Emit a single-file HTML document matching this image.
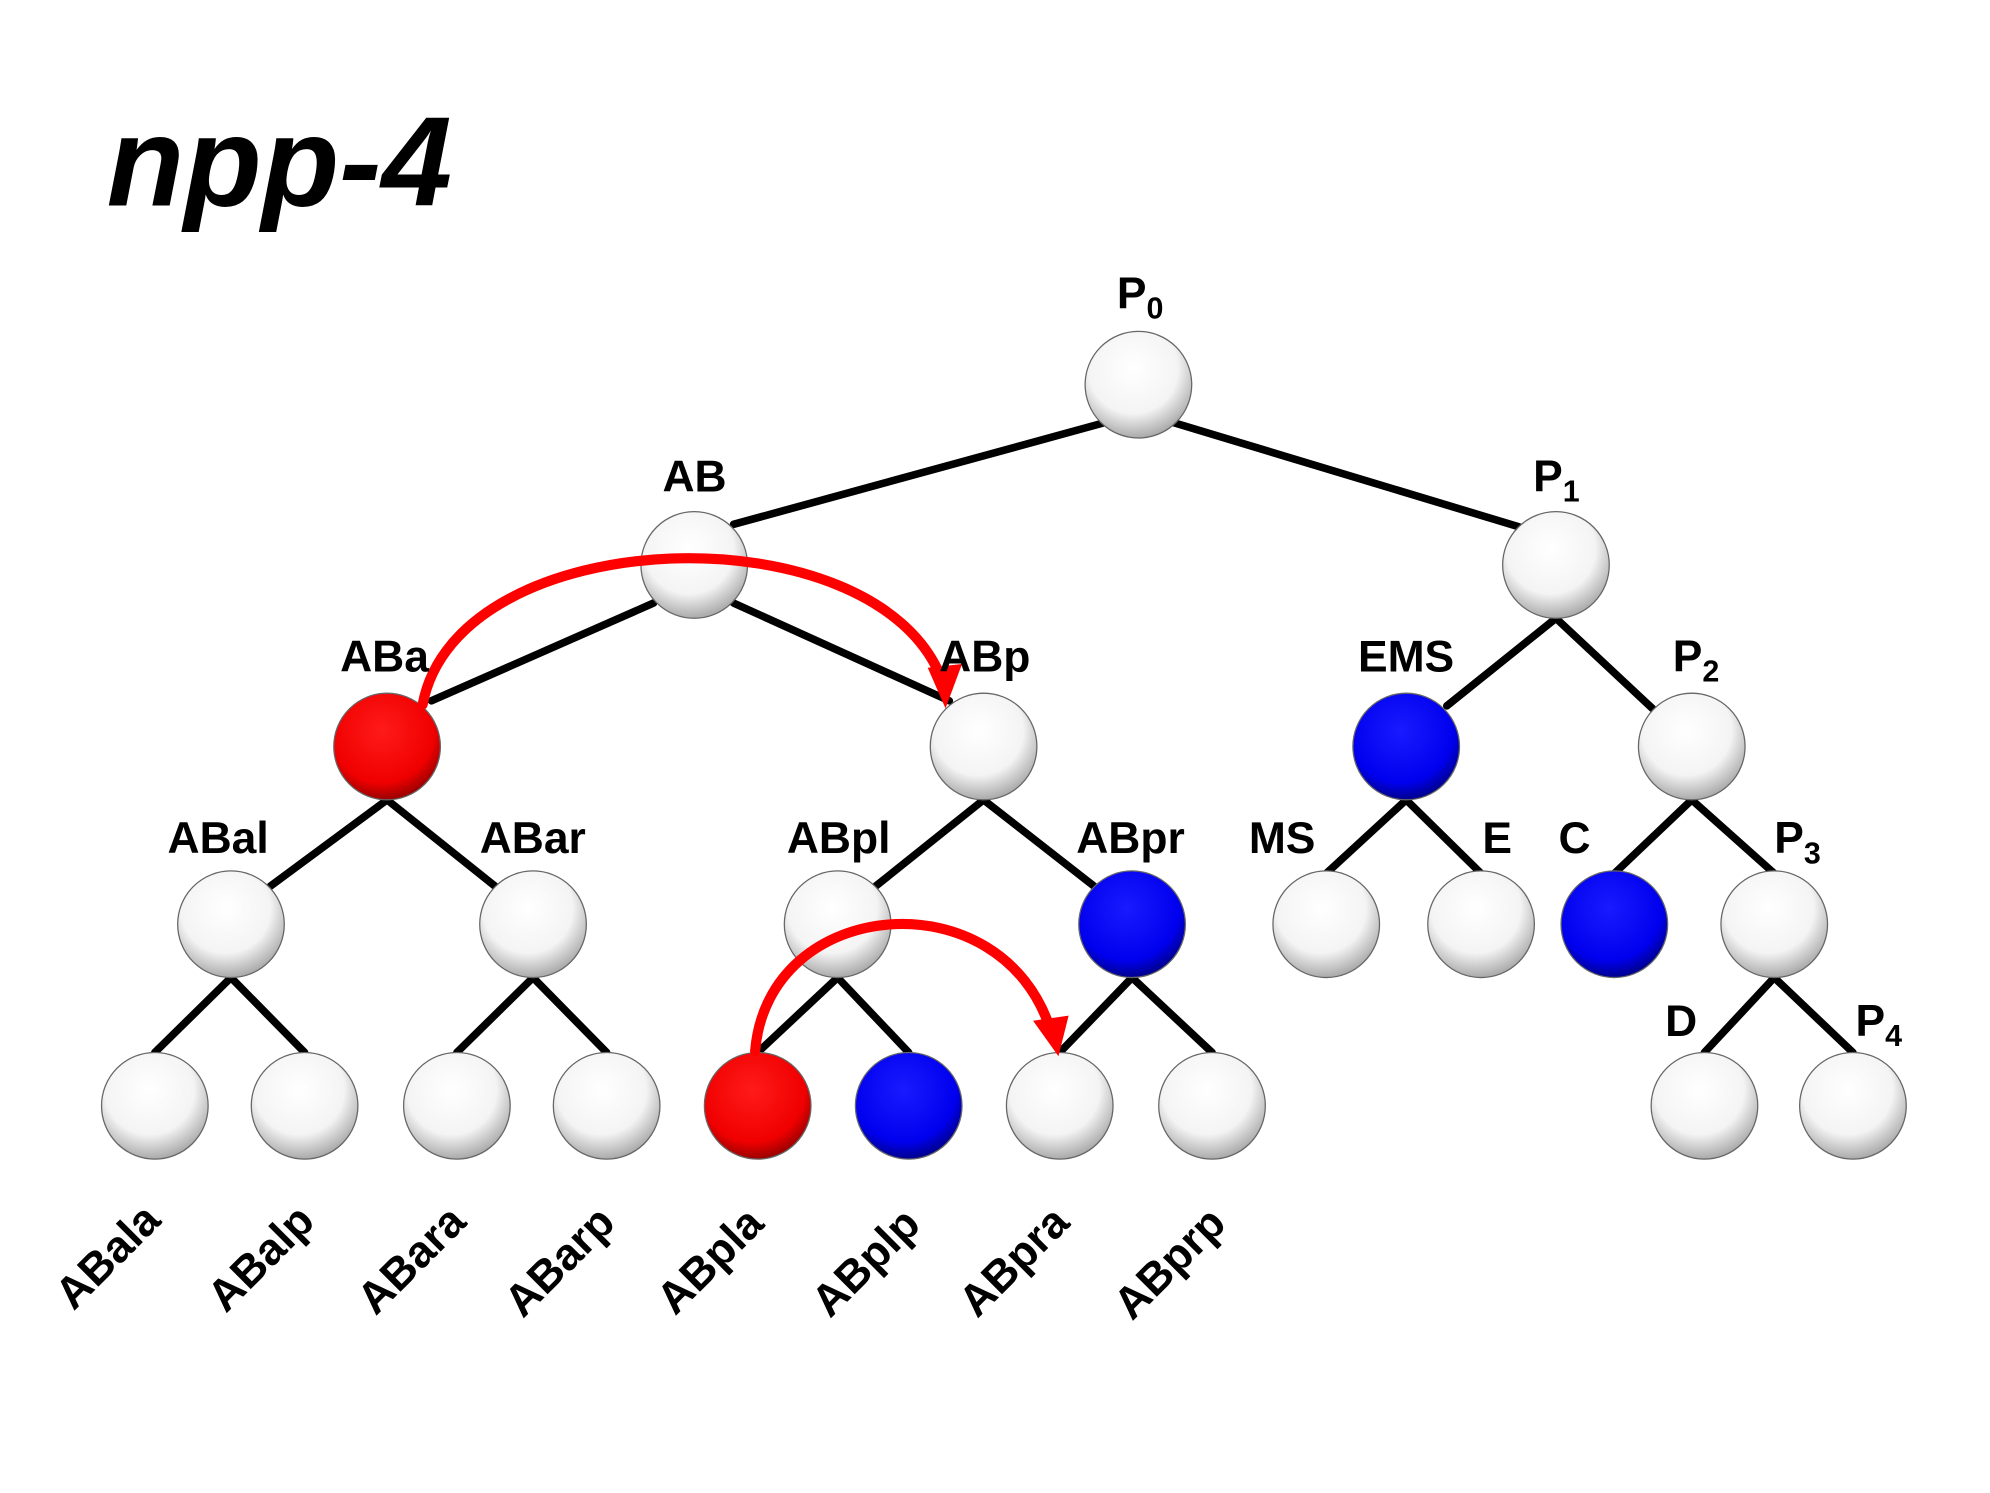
<!DOCTYPE html>
<html><head><meta charset="utf-8"><style>
html,body{margin:0;padding:0;background:#fff;}
svg{display:block;}
text{font-family:"Liberation Sans",Arial,sans-serif;font-weight:bold;fill:#000;}
</style></head><body>
<svg width="1990" height="1493" viewBox="0 0 1568 1176" preserveAspectRatio="none" xmlns="http://www.w3.org/2000/svg">
<defs>
<radialGradient id="gw" cx="0.45" cy="0.35" r="0.7">
<stop offset="0" stop-color="#ffffff"/><stop offset="0.6" stop-color="#f4f4f4"/><stop offset="1" stop-color="#9a9a9a"/></radialGradient>
<radialGradient id="gr" cx="0.45" cy="0.35" r="0.7">
<stop offset="0" stop-color="#ff1a1a"/><stop offset="0.7" stop-color="#f00000"/><stop offset="1" stop-color="#800000"/></radialGradient>
<radialGradient id="gb" cx="0.45" cy="0.35" r="0.7">
<stop offset="0" stop-color="#1a1aff"/><stop offset="0.7" stop-color="#0000ee"/><stop offset="1" stop-color="#000070"/></radialGradient>
</defs>
<g stroke="#000" stroke-width="6" stroke-linecap="round">
<line x1="870" y1="333" x2="578" y2="413"/>
<line x1="925" y1="333" x2="1197" y2="415"/>
<line x1="515" y1="475" x2="340" y2="552"/>
<line x1="578" y1="475" x2="748" y2="552"/>
<line x1="1226" y1="487" x2="1140" y2="556"/>
<line x1="1226" y1="487" x2="1302" y2="558"/>
<line x1="305" y1="630" x2="213" y2="698"/>
<line x1="305" y1="630" x2="390" y2="698"/>
<line x1="775" y1="630" x2="690" y2="698"/>
<line x1="775" y1="630" x2="862" y2="698"/>
<line x1="1108" y1="630" x2="1045" y2="688"/>
<line x1="1108" y1="630" x2="1167" y2="688"/>
<line x1="1333" y1="630" x2="1272" y2="688"/>
<line x1="1333" y1="630" x2="1398" y2="688"/>
<line x1="182" y1="770" x2="122" y2="829"/>
<line x1="182" y1="770" x2="240" y2="829"/>
<line x1="420" y1="770" x2="360" y2="829"/>
<line x1="420" y1="770" x2="478" y2="829"/>
<line x1="660" y1="770" x2="597" y2="829"/>
<line x1="660" y1="770" x2="716" y2="829"/>
<line x1="892" y1="770" x2="835" y2="829"/>
<line x1="892" y1="770" x2="955" y2="829"/>
<line x1="1398" y1="770" x2="1343" y2="829"/>
<line x1="1398" y1="770" x2="1460" y2="829"/>
</g>
<g stroke="#666" stroke-width="1">
<circle cx="897" cy="303" r="42" fill="url(#gw)"/>
<circle cx="547" cy="445" r="42" fill="url(#gw)"/>
<circle cx="1226" cy="445" r="42" fill="url(#gw)"/>
<circle cx="305" cy="588" r="42" fill="url(#gr)"/>
<circle cx="775" cy="588" r="42" fill="url(#gw)"/>
<circle cx="1108" cy="588" r="42" fill="url(#gb)"/>
<circle cx="1333" cy="588" r="42" fill="url(#gw)"/>
<circle cx="182" cy="728" r="42" fill="url(#gw)"/>
<circle cx="420" cy="728" r="42" fill="url(#gw)"/>
<circle cx="660" cy="728" r="42" fill="url(#gw)"/>
<circle cx="892" cy="728" r="42" fill="url(#gb)"/>
<circle cx="1045" cy="728" r="42" fill="url(#gw)"/>
<circle cx="1167" cy="728" r="42" fill="url(#gw)"/>
<circle cx="1272" cy="728" r="42" fill="url(#gb)"/>
<circle cx="1398" cy="728" r="42" fill="url(#gw)"/>
<circle cx="122" cy="871" r="42" fill="url(#gw)"/>
<circle cx="240" cy="871" r="42" fill="url(#gw)"/>
<circle cx="360" cy="871" r="42" fill="url(#gw)"/>
<circle cx="478" cy="871" r="42" fill="url(#gw)"/>
<circle cx="597" cy="871" r="42" fill="url(#gr)"/>
<circle cx="716" cy="871" r="42" fill="url(#gb)"/>
<circle cx="835" cy="871" r="42" fill="url(#gw)"/>
<circle cx="955" cy="871" r="42" fill="url(#gw)"/>
<circle cx="1343" cy="871" r="42" fill="url(#gw)"/>
<circle cx="1460" cy="871" r="42" fill="url(#gw)"/>
</g>
<g fill="none" stroke="#f00" stroke-width="8" stroke-linecap="round">
<path d="M333,555 C360,410 690,400 742,535"/>
<path d="M595,828 C605,705 790,690 828,812"/>
</g>
<polygon points="731,526 758,523 745,558" fill="#f00"/>
<polygon points="814,804 842,800 834,832" fill="#f00"/>
<text x="84" y="162" font-size="100" font-style="italic">npp-4</text>
<g font-size="35">
<text x="880" y="243">P<tspan font-size="24" dy="8">0</tspan></text>
<text x="522" y="387">AB</text>
<text x="1208" y="387">P<tspan font-size="24" dy="8">1</tspan></text>
<text x="268" y="529">ABa</text>
<text x="740" y="529">ABp</text>
<text x="1070" y="529">EMS</text>
<text x="1318" y="529">P<tspan font-size="24" dy="8">2</tspan></text>
<text x="132" y="672">ABal</text>
<text x="378" y="672">ABar</text>
<text x="620" y="672">ABpl</text>
<text x="848" y="672">ABpr</text>
<text x="984" y="672">MS</text>
<text x="1168" y="672">E</text>
<text x="1228" y="672">C</text>
<text x="1398" y="672">P<tspan font-size="24" dy="8">3</tspan></text>
<text x="1312" y="816">D</text>
<text x="1462" y="816">P<tspan font-size="24" dy="8">4</tspan></text>
</g>
<g font-size="35">
<text transform="translate(58,1033) rotate(-45)">ABala</text>
<text transform="translate(178,1035) rotate(-45)">ABalp</text>
<text transform="translate(296,1037) rotate(-45)">ABara</text>
<text transform="translate(412,1039) rotate(-45)">ABarp</text>
<text transform="translate(532,1037) rotate(-45)">ABpla</text>
<text transform="translate(654,1039) rotate(-45)">ABplp</text>
<text transform="translate(770,1039) rotate(-45)">ABpra</text>
<text transform="translate(892,1041) rotate(-45)">ABprp</text>
</g>
</svg>
</body></html>
